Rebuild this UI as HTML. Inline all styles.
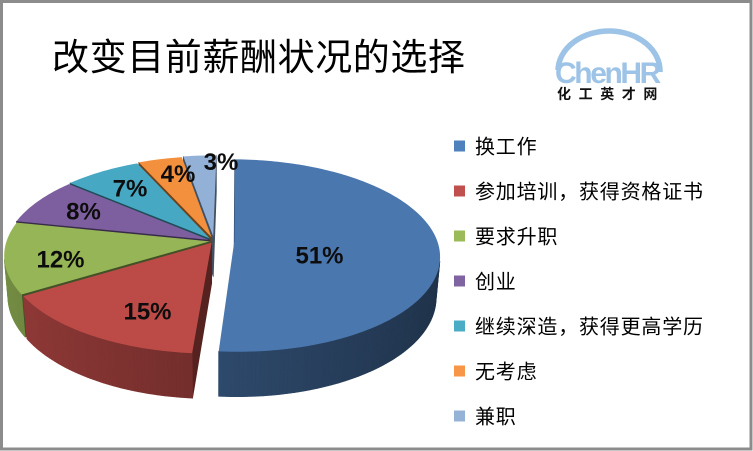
<!DOCTYPE html>
<html><head><meta charset="utf-8">
<style>
html,body{margin:0;padding:0;background:#fff;overflow:hidden;}
svg{display:block;}
</style></head>
<body>
<svg id="s" width="753" height="451" viewBox="0 0 753 451" xmlns="http://www.w3.org/2000/svg">
<rect x="0" y="0" width="753" height="451" fill="#ffffff"/>
<rect x="1.5" y="1.5" width="749.5" height="447.5" fill="none" stroke="#8c8c8c" stroke-width="3"/>
<g id="pie"></g>
<text x="52" y="70" font-family="'Noto Sans CJK SC', 'WenQuanYi Zen Hei', sans-serif" font-size="37" letter-spacing="0.6" fill="#000">改变目前薪酬状况的选择</text>
<path d="M 558 70 A 51 40 0 0 1 660 72" fill="none" stroke="#9dc3e6" stroke-width="5.5"/>
<text x="555" y="83" font-family="'Liberation Sans', Arial, sans-serif" font-weight="bold" font-size="30" letter-spacing="-2.4" fill="#9dc3e6">ChenHR</text>
<text x="557" y="99" font-family="'Noto Sans CJK SC', sans-serif" font-weight="bold" font-size="14" letter-spacing="7.6" fill="#111">化工英才网</text>
<g font-family="'Liberation Sans', Arial, sans-serif" font-weight="bold" font-size="24" fill="#0d0d0d" text-anchor="middle">
<text x="319.5" y="263.6">51%</text>
<text x="147.5" y="319.6">15%</text>
<text x="60.5" y="267.6">12%</text>
<text x="83.5" y="219.6">8%</text>
<text x="130" y="196.6">7%</text>
<text x="178" y="182">4%</text>
<text x="221" y="170">3%</text>
</g>
<g>
<rect x="454" y="140.5" width="11" height="11" fill="#4f81bd"/>
<rect x="454" y="185.5" width="11" height="11" fill="#c0504d"/>
<rect x="454" y="230.5" width="11" height="11" fill="#9bbb59"/>
<rect x="454" y="275.5" width="11" height="11" fill="#8064a2"/>
<rect x="454" y="320.5" width="11" height="11" fill="#4bacc6"/>
<rect x="454" y="365.5" width="11" height="11" fill="#f79646"/>
<rect x="454" y="410.5" width="11" height="11" fill="#95b3d7"/>
</g>
<g font-family="'Noto Sans CJK SC', 'WenQuanYi Zen Hei', sans-serif" font-size="20" letter-spacing="0.8" fill="#000">
<text x="475" y="153.5">换工作</text>
<text x="475" y="198.5">参加培训，获得资格证书</text>
<text x="475" y="243.5">要求升职</text>
<text x="475" y="288.5">创业</text>
<text x="475" y="333.5">继续深造，获得更高学历</text>
<text x="475" y="378.5">无考虑</text>
<text x="475" y="423.5">兼职</text>
</g>
</svg>
<script>
(function(){
var NS="http://www.w3.org/2000/svg";
var f=1230, D=6.06, el=27.6*Math.PI/180, s=Math.sin(el), c=Math.cos(el), h=0.228, CX=214, CY=241;
var cam=[0,-D*c,D*s];
function P(p){var dp=D+p[1]*c-p[2]*s;return [CX+f*p[0]/dp, CY-f*(p[1]*s+p[2]*c)/dp];}
function dep(p){return D+p[1]*c-p[2]*s;}
function hex(col){return [parseInt(col.substr(1,2),16),parseInt(col.substr(3,2),16),parseInt(col.substr(5,2),16)];}
function shade(col,k){var r=hex(col);return 'rgb('+r.map(function(v){return Math.max(0,Math.min(255,Math.round(v*k)));}).join(',')+')';}
function vis(n,p){return n[0]*(cam[0]-p[0])+n[1]*(cam[1]-p[1])+n[2]*(cam[2]-p[2])>0;}
var sl=[[51,'#4a77ae',0.10],[15,'#bc4b48',0.022],[12,'#95b557',0.022],[8,'#7d5fa0',0.028],[7,'#47a8c3',0.034],[4,'#f3903e',0.042],[3,'#93b1d7',0.05]];
var walls=[], tops=[];
var a=1*Math.PI/180;
sl.forEach(function(q){
  var a0=a, a1=a+q[0]*3.6*Math.PI/180; a=a1;
  var b=(a0+a1)/2, ox=q[2]*Math.sin(b), oy=q[2]*Math.cos(b);
  var N=Math.max(2,Math.ceil((a1-a0)/(Math.PI/180)));
  var arc=[];
  for(var i=0;i<=N;i++){var t=a0+(a1-a0)*i/N;arc.push(t);}
  var top=[[ox,oy,0]];
  arc.forEach(function(t){top.push([ox+Math.sin(t),oy+Math.cos(t),0]);});
  var dsum=0;top.forEach(function(p){dsum+=dep(p);});
  tops.push({pts:top,fill:q[1],d:dsum/top.length});
  [[a0,[-Math.cos(a0),Math.sin(a0),0]],[a1,[Math.cos(a1),-Math.sin(a1),0]]].forEach(function(r){
    var t=r[0];
    var e=[ox+Math.sin(t),oy+Math.cos(t)];
    var pts=[[ox,oy,0],[e[0],e[1],0],[e[0],e[1],-h],[ox,oy,-h]];
    var mid=[(ox+e[0])/2,(oy+e[1])/2,-h/2];
    if(vis(r[1],mid)){walls.push({pts:pts,fill:shade(q[1],0.45),d:dep(mid)});}
  });
  for(var i=0;i<N;i++){
    var t0=arc[i],t1=arc[i+1],tm=(t0+t1)/2;
    var n=[Math.sin(tm),Math.cos(tm),0];
    var mid=[ox+Math.sin(tm),oy+Math.cos(tm),-h/2];
    if(!vis(n,mid))continue;
    var k=0.6-0.18*Math.sin(tm);k=Math.max(0.4,Math.min(0.8,k));
    var pts=[[ox+Math.sin(t0),oy+Math.cos(t0),0],[ox+Math.sin(t1),oy+Math.cos(t1),0],[ox+Math.sin(t1),oy+Math.cos(t1),-h],[ox+Math.sin(t0),oy+Math.cos(t0),-h]];
    walls.push({pts:pts,fill:shade(q[1],k),d:dep(mid),seg:true});
  }
});
var g=document.getElementById('pie');
function draw(o,stroke){
  var el=document.createElementNS(NS,'polygon');
  el.setAttribute('points',o.pts.map(function(p){var s2=P(p);return s2[0].toFixed(2)+','+s2[1].toFixed(2);}).join(' '));
  el.setAttribute('fill',o.fill);
  if(stroke){el.setAttribute('stroke',o.fill);el.setAttribute('stroke-width','0.7');el.setAttribute('stroke-linejoin','round');}
  g.appendChild(el);
}
walls.sort(function(x,y){return y.d-x.d;});
walls.forEach(function(w){draw(w,true);});
tops.sort(function(x,y){return y.d-x.d;});
tops.forEach(function(t){draw(t,false);});
})();
</script>
</body></html>
